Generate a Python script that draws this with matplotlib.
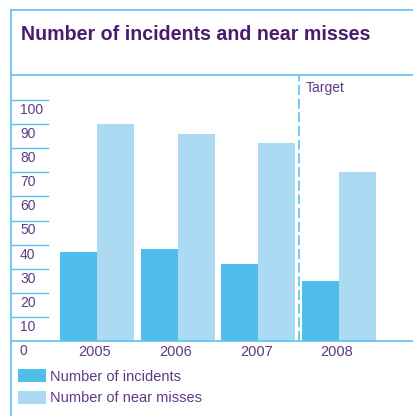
import matplotlib
matplotlib.use("Agg")
import matplotlib.pyplot as plt
from matplotlib.lines import Line2D
import numpy as np

# data
years = ["2005", "2006", "2007", "2008"]
incidents = [37, 38, 32, 25]
near_misses = [90, 86, 82, 70]
y_ticks = [0, 10, 20, 30, 40, 50, 60, 70, 80, 90, 100]
target_after = 2  # index of last actual year, target starts after it

# styles
c_inc = "#50bdea"
c_near = "#acdaf2"
c_line = "#5bc2ee"
c_title = "#4b1c6e"
c_text = "#5e3a86"

plt.rcParams["font.family"] = ["Liberation Sans", "DejaVu Sans"]

W, H = 414, 416
fig = plt.figure(figsize=(W / 100, H / 100), dpi=100)

# axes: left edge 11px, baseline at 341px, top line at 75px (pixels from top)
ax_l, ax_r, ax_b, ax_t = 11, 414, 341, 75
ax = fig.add_axes([ax_l / W, (H - ax_b) / H, (ax_r - ax_l) / W, (ax_b - ax_t) / H])

px_per_unit = 80.7
x0 = 97
ax.set_xlim((ax_l - x0) / px_per_unit, (ax_r - x0) / px_per_unit)
ax.set_ylim(0, 100 * (ax_b - ax_t) / (341 - 100))

x = np.arange(len(years))
w = 37 / px_per_unit
b1 = ax.bar(x - w / 2, incidents, w, color=c_inc, label="Number of incidents", zorder=2)
b2 = ax.bar(x + w / 2, near_misses, w, color=c_near, label="Number of near misses", zorder=2)

# frame: only top & bottom lines inside the axes
for s in ["left", "right"]:
    ax.spines[s].set_visible(False)
for s in ["top", "bottom"]:
    ax.spines[s].set_color(c_line)
    ax.spines[s].set_linewidth(1.2)
ax.set_xticks([])
ax.set_yticks([])

# short tick lines + labels
for v in y_ticks:
    if v > 0:
        ax.axhline(v, xmin=0, xmax=(48 - ax_l) / (ax_r - ax_l), color=c_line, lw=1.0, zorder=1)
    ax.annotate(str(v), xy=(0, v), xycoords=("axes fraction", "data"),
                xytext=(9, -10), textcoords="offset pixels",
                ha="left", va="center", fontsize=10, color=c_text)

# year labels
for i, yr in enumerate(years):
    ax.annotate(yr, xy=(i, 0), xycoords="data", xytext=(-2, -11),
                textcoords="offset pixels", ha="center", va="center",
                fontsize=10.5, color=c_text)

# target divider
xt = target_after + 0.5
ax.axvline(xt, color=c_line, lw=1.2, ls=(0, (6, 2.2)), zorder=3)
ax.annotate("Target", xy=(xt, 1), xycoords=("data", "axes fraction"),
            xytext=(7, -13), textcoords="offset pixels",
            ha="left", va="center", fontsize=10, color=c_text)

# outer frame lines (figure pixels)
fig.add_artist(Line2D([ax_l / W, 1], [1 - 10 / H, 1 - 10 / H], color=c_line, lw=1.2,
                      transform=fig.transFigure))
fig.add_artist(Line2D([ax_l / W, ax_l / W], [0, 1 - 10 / H], color=c_line, lw=1.2,
                      transform=fig.transFigure))

fig.text(21 / W, 1 - 34 / H, "Number of incidents and near misses", ha="left", va="center",
         fontsize=14.1, fontweight="bold", color=c_title)

leg = fig.legend(handles=[b1, b2], loc="upper left", bbox_to_anchor=(18 / W, 1 - 369 / H),
                 frameon=False, fontsize=10.5, handlelength=1.9, handleheight=1.0,
                 handletextpad=0.3, labelspacing=0.5, borderpad=0, borderaxespad=0)
for t in leg.get_texts():
    t.set_color(c_text)

fig.savefig("out.png", dpi=100)
